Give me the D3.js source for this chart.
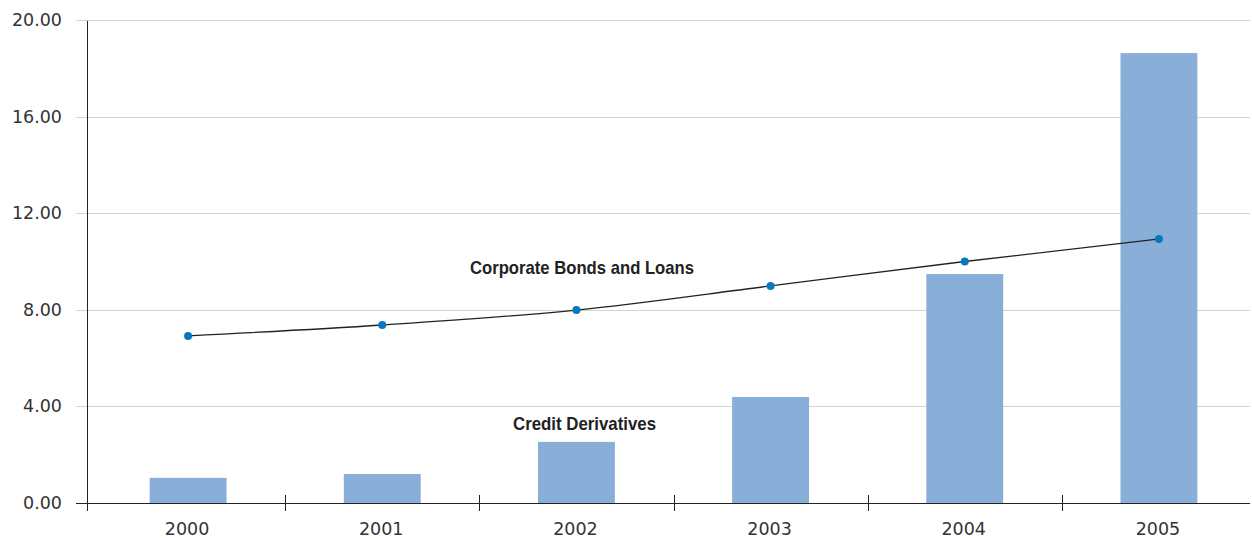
<!DOCTYPE html>
<html>
<head>
<meta charset="utf-8">
<script src="https://cdn.jsdelivr.net/npm/d3@7"></script>
<style>
  body { margin: 0; background: #fff; }
  svg { display: block; }
  .tick-label { font-family: "DejaVu Sans", "Liberation Sans", Arial, sans-serif; font-size: 17.5px; fill: #333; }
  .series-label { font-family: "Liberation Sans", Arial, sans-serif; font-weight: bold; font-size: 18.5px; fill: #222; }
</style>
</head>
<body>
<div id="chart"></div>
<script>
const years = ["2000", "2001", "2002", "2003", "2004", "2005"];
const creditDerivatives = [1.04, 1.2, 2.53, 4.39, 9.48, 18.63];
const corporateBonds = [6.92, 7.37, 7.99, 8.99, 10.0, 10.93];
const yTicks = [0, 4, 8, 12, 16, 20];

const width = 1252, height = 538;

const svg = d3.select("#chart").append("svg")
    .attr("width", width)
    .attr("height", height);

const x = d3.scaleBand()
    .domain(years)
    .range([91, 1256])
    .padding(0);

const y = d3.scaleLinear()
    .domain([0, 20])
    .range([503, 20]);

// gridlines
svg.append("g")
    .selectAll("line")
    .data(yTicks.filter(d => d > 0))
    .join("line")
    .attr("x1", 76)
    .attr("x2", 1250)
    .attr("y1", d => Math.round(y(d)) + 0.5)
    .attr("y2", d => Math.round(y(d)) + 0.5)
    .attr("stroke", "#d4d4d4")
    .attr("stroke-width", 1);

// y labels
svg.append("g")
    .selectAll("text")
    .data(yTicks)
    .join("text")
    .attr("class", "tick-label")
    .attr("x", 62)
    .attr("y", d => y(d) + 6)
    .attr("text-anchor", "end")
    .text(d => d3.format(".2f")(d));

// bars
const barW = x.bandwidth() * 0.396;
svg.append("g")
    .selectAll("rect")
    .data(years)
    .join("rect")
    .attr("x", d => x(d) + x.bandwidth() / 2 - barW / 2)
    .attr("y", (d, i) => y(creditDerivatives[i]))
    .attr("width", barW)
    .attr("height", (d, i) => y(0) - y(creditDerivatives[i]))
    .attr("fill", "#89aed7");

// y axis line
svg.append("line")
    .attr("x1", 87.5).attr("x2", 87.5)
    .attr("y1", 21).attr("y2", 511)
    .attr("stroke", "#222").attr("stroke-width", 1);

// x axis line
svg.append("line")
    .attr("x1", 76).attr("x2", 1250)
    .attr("y1", 503.5).attr("y2", 503.5)
    .attr("stroke", "#222").attr("stroke-width", 1);

// x ticks between bands
svg.append("g")
    .selectAll("line")
    .data(years.slice(1))
    .join("line")
    .attr("x1", d => Math.round(x(d)) + 0.5)
    .attr("x2", d => Math.round(x(d)) + 0.5)
    .attr("y1", 495)
    .attr("y2", 511)
    .attr("stroke", "#222");

// x labels
svg.append("g")
    .selectAll("text")
    .data(years)
    .join("text")
    .attr("class", "tick-label")
    .attr("x", d => x(d) + x.bandwidth() / 2 - 1)
    .attr("y", 535)
    .attr("text-anchor", "middle")
    .text(d => d);

// line
const line = d3.line()
    .x((d, i) => x(years[i]) + x.bandwidth() / 2)
    .y(d => y(d))
    .curve(d3.curveMonotoneX);

svg.append("path")
    .datum(corporateBonds)
    .attr("d", line)
    .attr("fill", "none")
    .attr("stroke", "#222")
    .attr("stroke-width", 1.3);

svg.append("g")
    .selectAll("circle")
    .data(corporateBonds)
    .join("circle")
    .attr("cx", (d, i) => x(years[i]) + x.bandwidth() / 2)
    .attr("cy", d => y(d))
    .attr("r", 4)
    .attr("fill", "#0878bd");

// series labels
svg.append("text")
    .attr("class", "series-label")
    .attr("x", 470)
    .attr("y", 274)
    .attr("textLength", 224)
    .attr("lengthAdjust", "spacingAndGlyphs")
    .text("Corporate Bonds and Loans");

svg.append("text")
    .attr("class", "series-label")
    .attr("x", 513)
    .attr("y", 430)
    .attr("textLength", 143)
    .attr("lengthAdjust", "spacingAndGlyphs")
    .text("Credit Derivatives");
</script>
</body>
</html>
